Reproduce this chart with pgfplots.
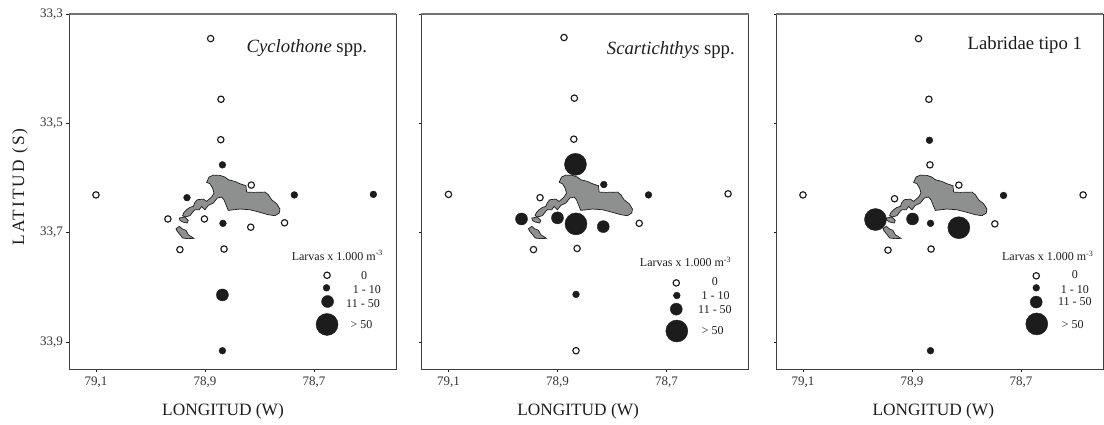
\documentclass[border=0pt]{standalone}
\usepackage{pgfplots}
\pgfplotsset{compat=1.18}
\usepackage{fontspec}
\setmainfont{Liberation Serif}
\newfontfamily\spaced[LetterSpace=12]{Liberation Serif}
\definecolor{ink}{HTML}{1C1C1C}
\definecolor{land}{HTML}{8E9090}
\newcommand{\fs}[1]{\fontsize{#1}{#1}\selectfont}
\pgfplotsset{
  panel/.style={
    scale only axis, width=327pt, height=355pt,
    x dir=reverse, xmin=78.5495, xmax=79.1495,
    y dir=reverse, ymin=33.30, ymax=33.9495,
    xtick={79.1,78.9,78.7}, xticklabels={{79,1},{78,9},{78,7}},
    ytick={33.3,33.5,33.7,33.9}, yticklabels={{33,3},{33,5},{33,7},{33,9}},
    tick align=outside, tick pos=lower,
    major tick length=2.5pt,
    tick style={ink, line width=0.7pt},
    axis line style={draw=ink!85, line width=0.8pt},
    tick label style={font=\fs{13}, text=ink!90},
    xticklabel style={yshift=-2pt},
    clip=false,
    extra description/.code={\draw[color=black!55, line width=1.1pt] (axis description cs:0,1)--(axis description cs:1,1);},
  },
  open/.style={only marks, mark=*, mark size=3.2pt, mark options={draw=ink, fill=white, line width=1.15pt}},
  small/.style={only marks, mark=*, mark size=3.4pt, mark options={draw=ink, fill=ink}},
  medium/.style={only marks, mark=*, mark size=6pt, mark options={draw=ink, fill=ink}},
  large/.style={only marks, mark=*, mark size=11pt, mark options={draw=ink, fill=ink}},
  isl/.style={draw=ink, fill=land, line width=0.7pt},
}
\newcommand{\island}{%
\addplot[isl] coordinates {(78.941,33.669)(78.9386,33.6629)(78.9337,33.6581)(78.9276,33.6538)(78.9214,33.652)(78.9184,33.6447)(78.9141,33.6398)(78.9031,33.6386)(78.897,33.6428)(78.8878,33.6349)(78.8835,33.6276)(78.886,33.6185)(78.8909,33.6105)(78.897,33.6081)(78.8927,33.5984)(78.8847,33.5947)(78.8725,33.5953)(78.8633,33.5984)(78.8572,33.6032)(78.845,33.6063)(78.8358,33.6105)(78.8248,33.6142)(78.8236,33.6258)(78.8114,33.6264)(78.7899,33.6258)(78.7838,33.6306)(78.7777,33.6398)(78.7685,33.6471)(78.7624,33.6568)(78.7637,33.6641)(78.7716,33.669)(78.7838,33.6672)(78.7991,33.6629)(78.8175,33.6581)(78.8358,33.6568)(78.8572,33.6593)(78.8615,33.6489)(78.8652,33.6398)(78.8695,33.6349)(78.8774,33.6367)(78.8847,33.6459)(78.8939,33.6501)(78.9,33.6581)(78.9062,33.652)(78.9104,33.6581)(78.9184,33.6581)(78.9214,33.6611)(78.9276,33.669)(78.9367,33.6714)} --cycle;
\addplot[isl] coordinates {(78.9471,33.6733)(78.9367,33.6714)(78.9306,33.6775)(78.9325,33.6824)(78.941,33.6806)(78.9459,33.6775)} --cycle;
\addplot[isl] coordinates {(78.9532,33.6928)(78.9471,33.6885)(78.941,33.6934)(78.9349,33.6958)(78.9306,33.7037)(78.9202,33.7104)(78.9306,33.711)(78.941,33.7098)(78.9471,33.7019)(78.9508,33.6976)} --cycle;
}
\begin{document}
\begin{tikzpicture}
\path[use as bounding box] (0,0) rectangle (1104pt,424pt);
% Panel 1
\begin{axis}[panel, at={(69pt,55pt)}, anchor=south west,
  xlabel={LONGITUD (W)}, ylabel={LATITUD (S)},
  xlabel style={font=\fs{17.3}, text=ink, at={(axis description cs:0.471,-0.118)}, anchor=center},
  ylabel style={font=\spaced\fs{17.3}, text=ink, at={(axis description cs:-0.15,0.513)}, anchor=center},
]
\island
\addplot[open] coordinates {(78.8896,33.345)(78.8706,33.456)(78.871,33.530)(78.815,33.613)(79.1,33.631)(78.968,33.675)(78.901,33.675)(78.816,33.690)(78.754,33.682)(78.946,33.731)(78.865,33.730)};
\addplot[small] coordinates {(78.868,33.576)(78.933,33.636)(78.736,33.631)(78.591,33.630)(78.867,33.683)(78.868,33.916)};
\addplot[medium] coordinates {(78.868,33.814)};
\addplot[open] coordinates {(78.676,33.778)};
\addplot[small] coordinates {(78.677,33.801)};
\addplot[medium] coordinates {(78.675,33.826)};
\addplot[large] coordinates {(78.676,33.868)};
\node[font=\fs{18.7}, text=ink] at (axis cs:78.713,33.3615) {\textit{Cyclothone} spp.};
\node[font=\fs{12}, text=ink] at (axis cs:78.657,33.742) {Larvas x 1.000 m\textsuperscript{-3}};
\node[font=\fs{12}, text=ink] at (axis cs:78.608,33.778) {0};
\node[font=\fs{12}, text=ink] at (axis cs:78.603,33.804) {1 - 10};
\node[font=\fs{12}, text=ink] at (axis cs:78.610,33.830) {11 - 50};
\node[font=\fs{12}, text=ink] at (axis cs:78.613,33.868) {> 50};
\end{axis}
% Panel 2
\begin{axis}[panel, at={(421.5pt,55pt)}, anchor=south west,
  yticklabels={},
  xlabel={LONGITUD (W)},
  xlabel style={font=\fs{17.3}, text=ink, at={(axis description cs:0.479,-0.118)}, anchor=center},
]
\island
\addplot[open] coordinates {(78.888,33.343)(78.869,33.454)(78.870,33.529)(79.1,33.630)(78.932,33.636)(78.587,33.629)(78.750,33.683)(78.944,33.731)(78.864,33.729)(78.866,33.916)};
\addplot[small] coordinates {(78.815,33.612)(78.733,33.631)(78.866,33.813)};
\addplot[medium] coordinates {(78.966,33.675)(78.900,33.673)(78.816,33.689)};
\addplot[large] coordinates {(78.867,33.575)(78.866,33.684)};
\addplot[open] coordinates {(78.682,33.792)};
\addplot[small] coordinates {(78.681,33.815)};
\addplot[medium] coordinates {(78.682,33.840)};
\addplot[large] coordinates {(78.681,33.880)};
\node[font=\fs{18.7}, text=ink] at (axis cs:78.692,33.366) {\textit{Scartichthys} spp.};
\node[font=\fs{12}, text=ink] at (axis cs:78.665,33.754) {Larvas x 1.000 m\textsuperscript{-3}};
\node[font=\fs{12}, text=ink] at (axis cs:78.611,33.789) {0};
\node[font=\fs{12}, text=ink] at (axis cs:78.610,33.816) {1 - 10};
\node[font=\fs{12}, text=ink] at (axis cs:78.611,33.841) {11 - 50};
\node[font=\fs{12}, text=ink] at (axis cs:78.615,33.880) {> 50};
\end{axis}
% Panel 3
\begin{axis}[panel, at={(776pt,55pt)}, anchor=south west,
  yticklabels={},
  xlabel={LONGITUD (W)},
  xlabel style={font=\fs{17.3}, text=ink, at={(axis description cs:0.481,-0.118)}, anchor=center},
]
\island
\addplot[open] coordinates {(78.888,33.345)(78.869,33.456)(78.867,33.576)(78.814,33.613)(79.1,33.631)(78.932,33.638)(78.586,33.631)(78.748,33.684)(78.944,33.732)(78.865,33.730)};
\addplot[small] coordinates {(78.868,33.531)(78.732,33.632)(78.866,33.683)(78.866,33.916)};
\addplot[medium] coordinates {(78.899,33.675)};
\addplot[large] coordinates {(78.967,33.676)(78.814,33.691)};
\addplot[open] coordinates {(78.672,33.779)};
\addplot[small] coordinates {(78.672,33.801)};
\addplot[medium] coordinates {(78.672,33.827)};
\addplot[large] coordinates {(78.671,33.867)};
\node[font=\fs{18.7}, text=ink] at (axis cs:78.693,33.357) {Labridae tipo 1};
\node[font=\fs{12}, text=ink] at (axis cs:78.651,33.743) {Larvas x 1.000 m\textsuperscript{-3}};
\node[font=\fs{12}, text=ink] at (axis cs:78.601,33.777) {0};
\node[font=\fs{12}, text=ink] at (axis cs:78.601,33.804) {1 - 10};
\node[font=\fs{12}, text=ink] at (axis cs:78.601,33.827) {11 - 50};
\node[font=\fs{12}, text=ink] at (axis cs:78.605,33.868) {> 50};
\end{axis}
\end{tikzpicture}
\end{document}
